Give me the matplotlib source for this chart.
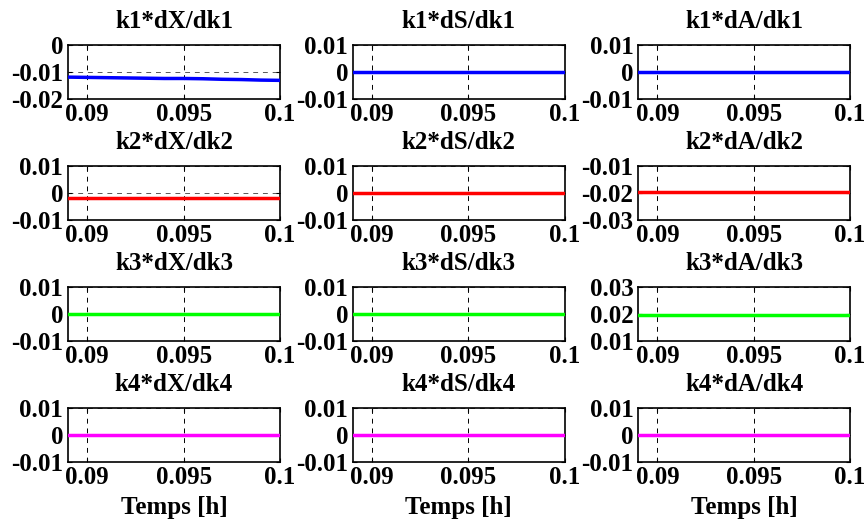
import matplotlib.pyplot as plt

plt.rcParams['font.family'] = ['Liberation Serif', 'DejaVu Serif']
plt.rcParams['font.weight'] = 'bold'

# temps [h]
t = [0.089, 0.090, 0.091, 0.092, 0.093, 0.094, 0.095, 0.096, 0.097, 0.098, 0.099, 0.100]

# sensibilites
k1_dX = [-0.0119, -0.0120, -0.0121, -0.0122, -0.0123, -0.0124, -0.0124, -0.0125, -0.0127, -0.0128, -0.0130, -0.0131]
k1_dS = [0.0] * len(t)
k1_dA = [0.0] * len(t)
k2_dX = [-0.0017] * len(t)
k2_dS = [0.0] * len(t)
k2_dA = [-0.0195] * len(t)
k3_dX = [0.0] * len(t)
k3_dS = [0.0] * len(t)
k3_dA = [0.0195] * len(t)
k4_dX = [0.0] * len(t)
k4_dS = [0.0] * len(t)
k4_dA = [0.0] * len(t)

series = [[k1_dX, k1_dS, k1_dA],
          [k2_dX, k2_dS, k2_dA],
          [k3_dX, k3_dS, k3_dA],
          [k4_dX, k4_dS, k4_dA]]
titles = [['k1*dX/dk1', 'k1*dS/dk1', 'k1*dA/dk1'],
          ['k2*dX/dk2', 'k2*dS/dk2', 'k2*dA/dk2'],
          ['k3*dX/dk3', 'k3*dS/dk3', 'k3*dA/dk3'],
          ['k4*dX/dk4', 'k4*dS/dk4', 'k4*dA/dk4']]
yticks = [[[-0.02, -0.01, 0], [-0.01, 0, 0.01], [-0.01, 0, 0.01]],
          [[-0.01, 0, 0.01], [-0.01, 0, 0.01], [-0.03, -0.02, -0.01]],
          [[-0.01, 0, 0.01], [-0.01, 0, 0.01], [0.01, 0.02, 0.03]],
          [[-0.01, 0, 0.01], [-0.01, 0, 0.01], [-0.01, 0, 0.01]]]
colors = ['#0000ff', '#ff0000', '#00ff00', '#ff00ff']
xticks = [0.09, 0.095, 0.1]
xticklabels = ['0.09', '0.095', '0.1']

def fmt(v):
    if v == 0:
        return '0'
    return ('%.2f' % v)

fig = plt.figure(figsize=(8.67, 5.23), dpi=100)
lefts = [0.0784, 0.407, 0.736]
bottoms = [0.8107, 0.5793, 0.348, 0.1166]
w, h = 0.2445, 0.1033
fs = 18

for i in range(4):
    for j in range(3):
        ax = fig.add_axes([lefts[j], bottoms[i], w, h])
        ax.plot(t, series[i][j], color=colors[i], linewidth=2.5, zorder=3)
        ax.set_xlim(0.089, 0.1)
        yt = yticks[i][j]
        ax.set_ylim(yt[0], yt[-1])
        ax.set_yticks(yt)
        ax.set_yticklabels([fmt(v) for v in yt])
        ax.set_xticks(xticks)
        ax.set_xticklabels(xticklabels)
        ax.tick_params(direction='in', length=3, width=0.8, labelsize=fs,
                       top=True, right=True, pad=3.5)
        ax.tick_params(axis='x', pad=3)
        ax.grid(axis='x', color='k', linestyle=(0, (5, 5)), linewidth=0.7)
        ax.grid(axis='y', color='0.35', linestyle=(0, (5, 5)), linewidth=0.7)
        for s in ax.spines.values():
            s.set_linewidth(1.2)
        ax.set_title(titles[i][j], fontsize=18, fontweight='bold', pad=12.5)
        if i == 3:
            ax.set_xlabel('Temps [h]', fontsize=fs, fontweight='bold', labelpad=5)

fig.savefig('out.png', dpi=100)
